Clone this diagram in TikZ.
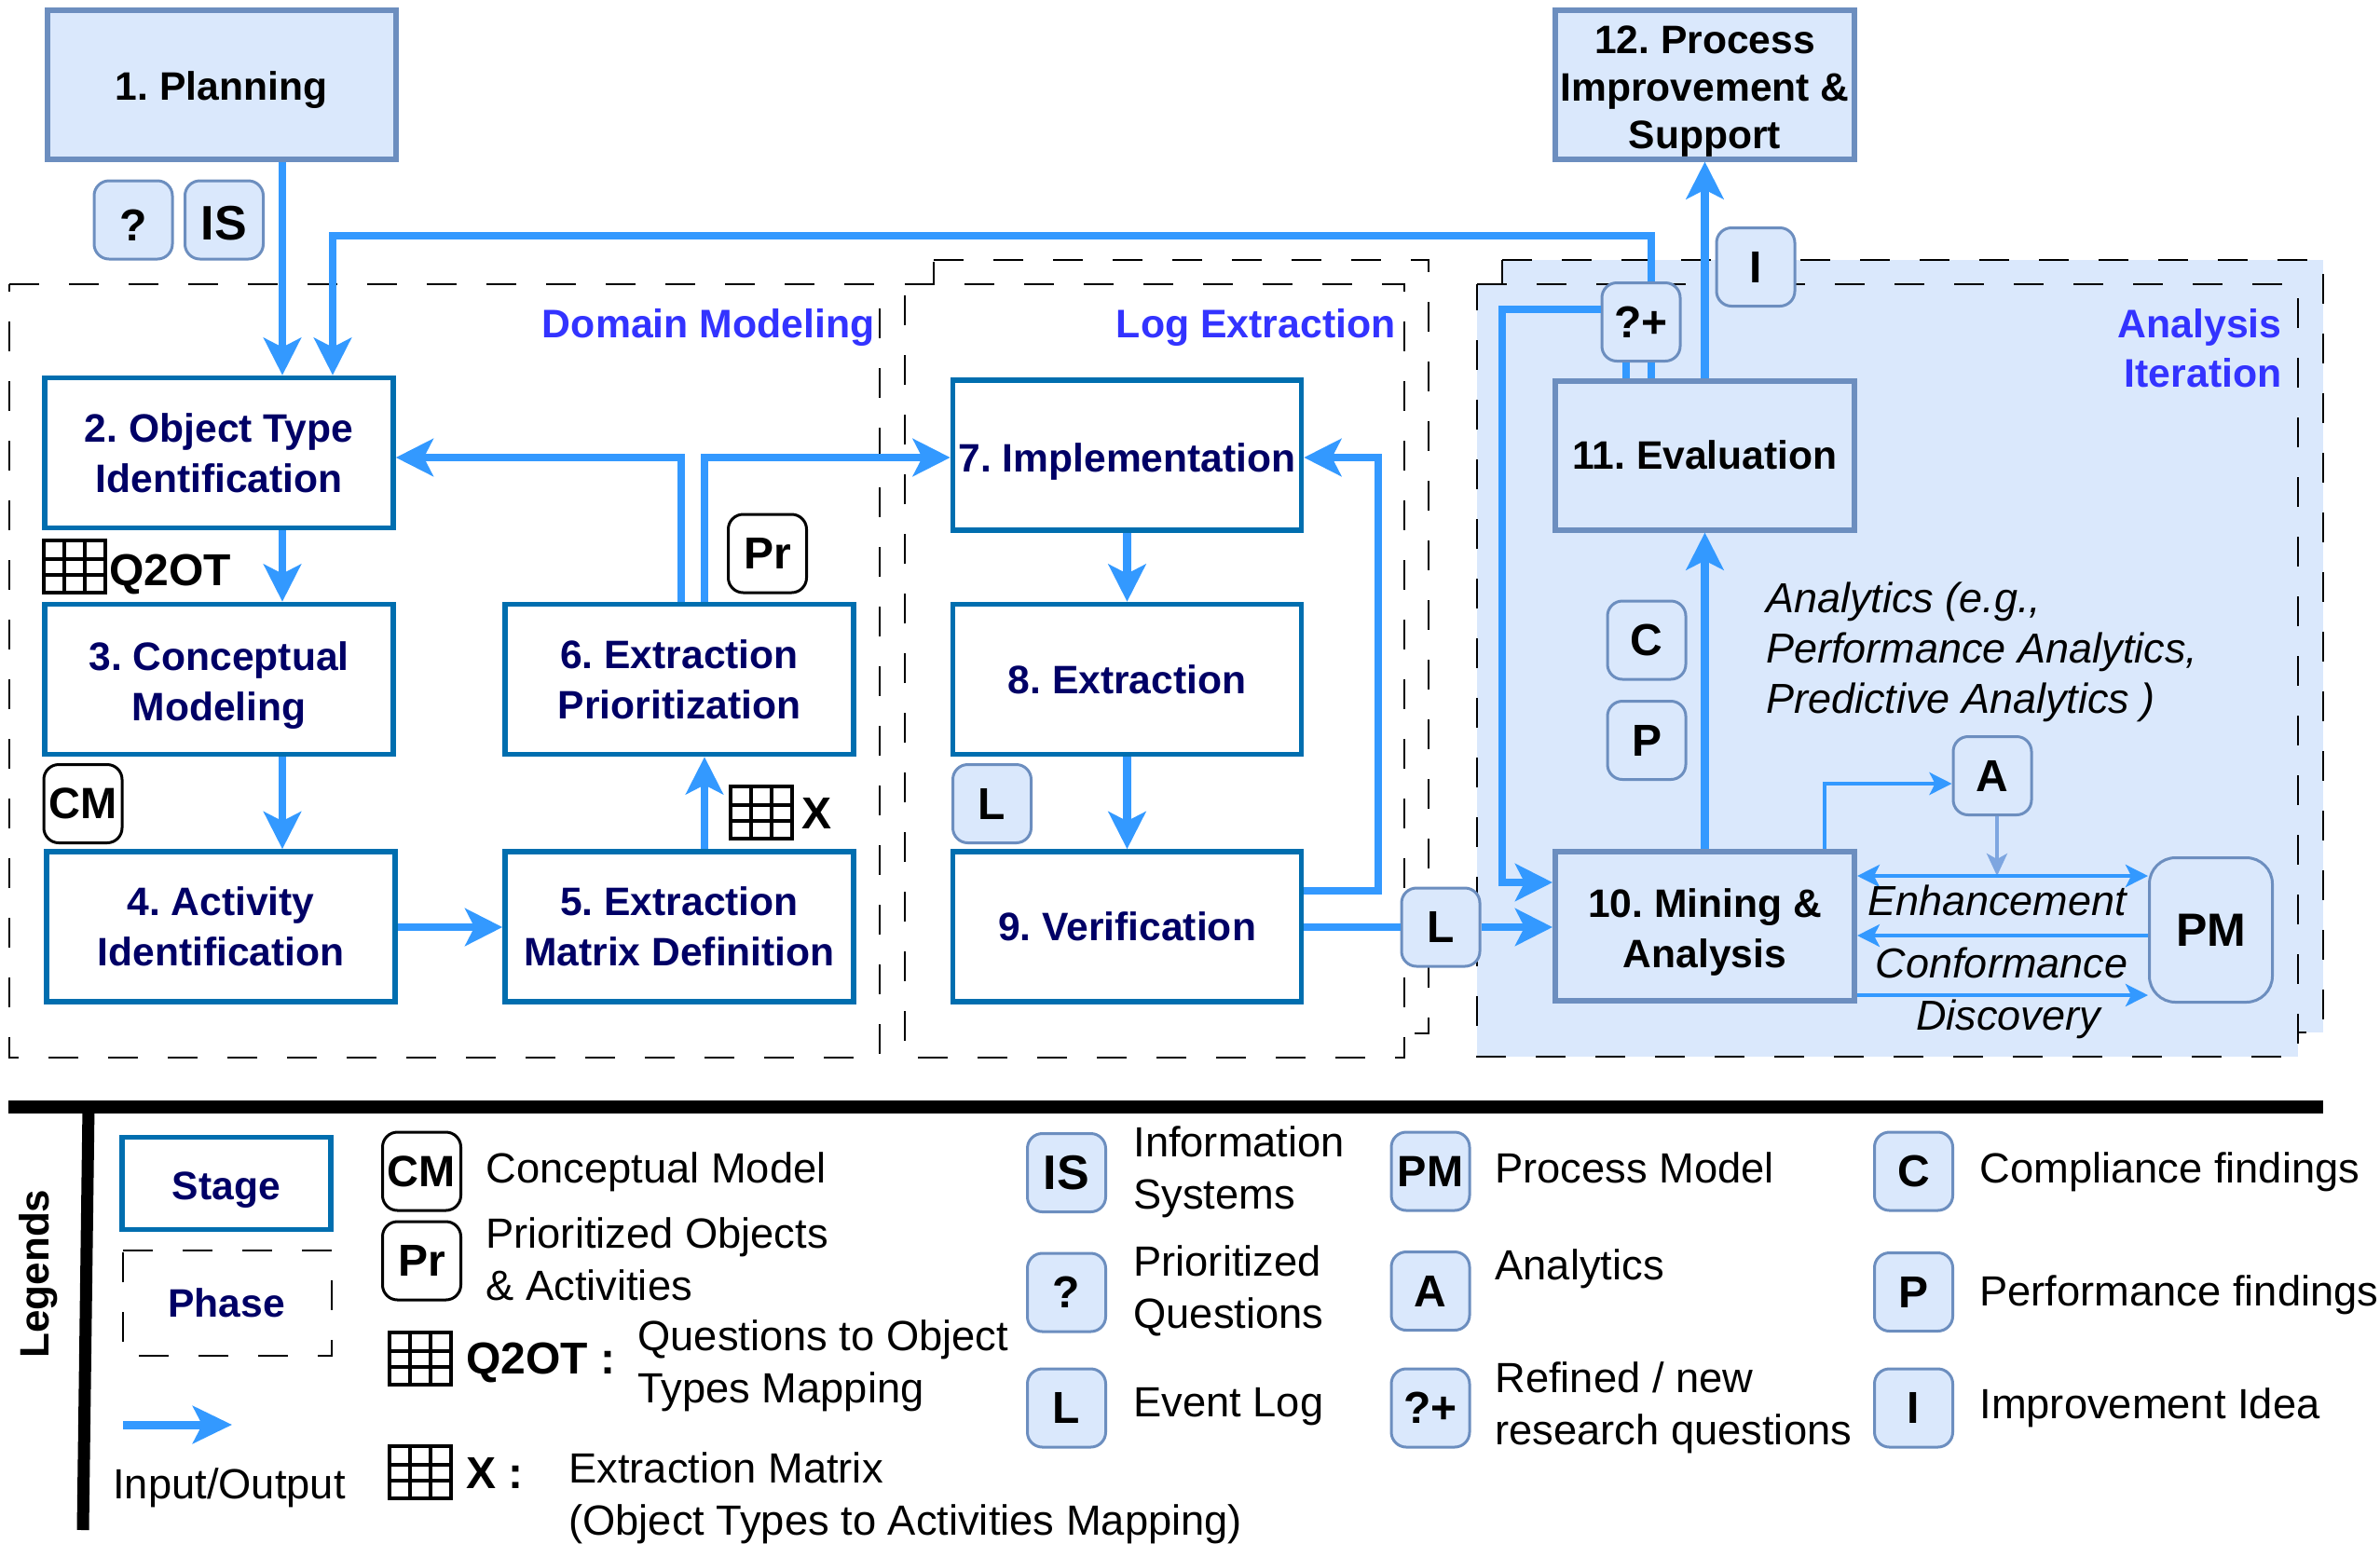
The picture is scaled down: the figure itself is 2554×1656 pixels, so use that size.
\documentclass[tikz,border=0pt]{standalone}
\usepackage{fontspec}
\setmainfont{Liberation Sans}
\usetikzlibrary{arrows.meta}
\frenchspacing

\definecolor{flowblue}{HTML}{3399FF}
\definecolor{stageline}{HTML}{006EAF}
\definecolor{stagetext}{HTML}{000066}
\definecolor{lightfill}{HTML}{DAE8FC}
\definecolor{lightline}{HTML}{6C8EBF}
\definecolor{softarrow}{HTML}{7EA6E0}
\definecolor{phasetext}{HTML}{3333FF}

\newcommand{\boldfont}{\fontsize{21.3}{27}\selectfont\bfseries}
\newcommand{\plainfont}{\fontsize{22.65}{28}\selectfont}
\newcommand{\topstrut}{\rule{0pt}{22pt}}
\newcommand{\gridicon}[2]{%
  \draw[gridline] (#1,#2) rectangle ++(66,56);
  \foreach \k in {22,44} {\draw[gridline] (#1+\k,#2) -- ++(0,56);}
  \foreach \k in {20,37} {\draw[gridline] (#1,#2+\k) -- ++(66,0);}
}

\tikzset{
  stagebox/.style={draw=stageline,line width=2.8pt,fill=white,minimum width=187pt,minimum height=80.5pt,
    align=center,text=stagetext,font=\boldfont,inner sep=0pt},
  lightbox/.style={draw=lightline,line width=3pt,fill=lightfill,minimum width=160.5pt,minimum height=80pt,
    align=center,font=\boldfont,inner sep=0pt},
  chip/.style={draw=lightline,line width=1.5pt,fill=lightfill,rounded corners=8pt,minimum width=42pt,
    minimum height=42pt,font=\fontsize{24}{27}\selectfont\bfseries,inner sep=0pt},
  darkchip/.style={chip,draw=black,fill=white},
  flow/.style={draw=flowblue,line width=4.2pt,-{Stealth[length=20pt,width=20pt,inset=5pt]}},
  flowline/.style={draw=flowblue,line width=4.2pt},
  thinflow/.style={draw=flowblue,line width=2pt,-{Stealth[length=12pt,width=12pt,inset=3pt]}},
  softflow/.style={draw=softarrow,line width=2pt,-{Stealth[length=12pt,width=11pt,inset=3pt]}},
  phaseline/.style={draw=black,line width=1.4pt,dash pattern=on 16pt off 16pt},
  phaselabel/.style={text=phasetext,font=\fontsize{21.4}{26.5}\selectfont\bfseries,align=right,anchor=east,inner sep=0pt},
  itemlabel/.style={font=\plainfont,align=left,anchor=west,inner sep=0pt},
  flowlabel/.style={font=\fontsize{22.5}{27}\selectfont\itshape,inner sep=0pt},
  iconlabel/.style={font=\fontsize{24}{27}\selectfont\bfseries,anchor=west,inner sep=0pt},
  gridline/.style={draw=black,line width=1.7pt},
}

\begin{document}
\begin{tikzpicture}[x=0.5pt,y=-0.5pt]
\useasboundingbox (0,0) rectangle (2554,1656);

% phases
\draw[phaseline] (10,305) -- (944,305) -- (944,1135) -- (10,1135) -- cycle;
\draw[phaseline] (1002,279) -- (1533,279) -- (1533,1109) -- (1002,1109) -- cycle;
\draw[phaseline,fill=white] (971,305) -- (1507,305) -- (1507,1135) -- (971,1135) -- cycle;
\draw[phaseline,fill=lightfill] (1612,279) -- (2493,279) -- (2493,1108) -- (1612,1108) -- cycle;
\draw[phaseline,fill=lightfill] (1585,305) -- (2466,305) -- (2466,1134) -- (1585,1134) -- cycle;
\node[phaselabel] (domainlabel) at (939,352) {Domain Modeling};
\node[phaselabel] (loglabel) at (1498,352) {Log Extraction};
\node[phaselabel] (analysislabel) at (2449,374) {Analysis\\Iteration};

% stages
\node[lightbox,minimum width=187pt] (plan) at (237.5,90.5) {\topstrut 1. Planning};
\node[stagebox] (objtype) at (235,486) {2. Object Type\\Identification};
\node[stagebox] (concept) at (235,729) {\topstrut 3. Conceptual\\Modeling};
\node[stagebox] (activity) at (237,994.5) {4. Activity\\Identification};
\node[stagebox] (exmatrix) at (729,994.5) {5. Extraction\\Matrix Definition};
\node[stagebox] (exprior) at (729,729) {6. Extraction\\Prioritization};
\node[stagebox] (impl) at (1209.5,488.5) {\topstrut 7. Implementation};
\node[stagebox] (extract) at (1209.5,729) {8. Extraction};
\node[stagebox] (verify) at (1209.5,994.5) {9. Verification};
\node[lightbox] (mining) at (1829.5,994) {\topstrut 10. Mining \&\\Analysis};
\node[lightbox] (evalbox) at (1829.5,488.5) {11. Evaluation};
\node[lightbox,font=\fontsize{21.3}{25.5}\selectfont\bfseries] (improve) at (1829.5,90.5) {\topstrut 12. Process\\Improvement \&\\Support};

% artifacts
\node[chip] (chipq) at (143,236) {\topstrut ?};
\node[chip,font=\fontsize{26}{27}\selectfont\bfseries] (chipis) at (240.5,236) {\topstrut IS};
\node[chip] (chipidea) at (1884,286.5) {I};
\node[chip] (chiprefine) at (1761,345.5) {?+};
\node[chip] (chipc) at (1767,687) {C};
\node[chip] (chipp) at (1767,794.5) {P};
\node[chip] (chipa) at (2138,832.5) {A};
\node[chip,minimum width=66pt,minimum height=77.5pt,rounded corners=14pt,font=\fontsize{25}{27}\selectfont\bfseries] (chippm) at (2372.5,998) {PM};
\node[chip] (chipl) at (1546,995) {L};
\node[chip] (chiplog) at (1064.5,862.5) {L};
\node[darkchip,font=\fontsize{23.5}{27}\selectfont\bfseries] (chipcm) at (89,862.5) {CM};
\node[darkchip] (chippr) at (823.5,594) {Pr};
\gridicon{47}{580}
\node[iconlabel] (q2ot) at (117,616) {Q2OT};
\gridicon{784}{844}
\node[iconlabel] (xmat) at (860,873) {X};

% connectors
\coordinate (xa) at (303,0);
\coordinate (xb) at (357,0);
\coordinate (xc) at (731,0);
\coordinate (xd) at (756,0);
\coordinate (xe) at (1745,0);
\coordinate (xf) at (1772,0);
\coordinate (xg) at (1958,0);
\coordinate (xh) at (2143,0);
\coordinate (xi) at (1612,0);
\coordinate (xj) at (1479,0);
\coordinate (ya) at (0,253);
\coordinate (yb) at (0,491);
\coordinate (yc) at (0,956);
\coordinate (yd) at (0,995);
\coordinate (ye) at (0,332);
\coordinate (yf) at (0,947);
\coordinate (yg) at (0,841);
\coordinate (yh) at (0,940);
\coordinate (yi) at (0,1004);
\coordinate (yj) at (0,1068);

\draw[flow] (plan.south -| xa) -- (objtype.north -| xa);
\draw[flow] (chiprefine.north -| xf) -- (xf |- ya) -- (xb |- ya) -- (objtype.north -| xb);
\draw[flow] (objtype.south -| xa) -- (concept.north -| xa);
\draw[flow] (concept.south -| xa) -- (activity.north -| xa);
\draw[flow] (activity.east |- yd) -- (exmatrix.west |- yd);
\draw[flow] (exmatrix.north -| xd) -- (exprior.south -| xd);
\draw[flow] (exprior.north -| xc) -- (xc |- yb) -- (objtype.east |- yb);
\draw[flow] (exprior.north -| xd) -- (xd |- yb) -- (impl.west |- yb);
\draw[flow] (impl.south) -- (extract.north);
\draw[flow] (extract.south) -- (verify.north);
\draw[flow] (verify.east |- yc) -- (xj |- yc) -- (xj |- yb) -- (impl.east |- yb);
\draw[flowline] (verify.east |- yd) -- (chipl.west |- yd);
\draw[flow] (chipl.east |- yd) -- (mining.west |- yd);
\draw[flow] (chiprefine.west |- ye) -- (xi |- ye) -- (xi |- yf) -- (mining.west |- yf);
\draw[flowline] (chiprefine.south -| xe) -- (evalbox.north -| xe);
\draw[flowline] (chiprefine.south -| xf) -- (evalbox.north -| xf);
\draw[flow] (mining.north) -- (evalbox.south);
\draw[flow] (evalbox.north) -- (improve.south);
\draw[thinflow] (mining.north -| xg) -- (xg |- yg) -- (chipa.west |- yg);
\draw[softflow] (chipa.south -| xh) -- (xh |- yh);
\draw[thinflow,{Stealth[length=12pt,width=12pt,inset=3pt]}-{Stealth[length=12pt,width=12pt,inset=3pt]}] (mining.east |- yh) -- (chippm.west |- yh);
\draw[thinflow] (chippm.west |- yi) -- (mining.east |- yi);
\draw[thinflow] (mining.east |- yj) -- (chippm.west |- yj);

% free labels
\node[flowlabel] (enhance) at (2143,966) {Enhancement};
\node[flowlabel] (conform) at (2148,1033) {Conformance};
\node[flowlabel] (discover) at (2155,1094) {Discovery};
\node[itemlabel,font=\fontsize{22.5}{27}\selectfont\itshape] (analytics) at (1895,700) {Analytics (e.g.,\\Performance Analytics,\\Predictive Analytics )};

% legends
\coordinate (rulea) at (9,1188);
\coordinate (ruleb) at (2493,1188);
\coordinate (rulec) at (95,1188);
\coordinate (ruled) at (89,1642);
\draw[line width=7pt] (rulea) -- (ruleb);
\draw[line width=6.5pt] (rulec) -- (ruled);
\node[rotate=90,font=\fontsize{22}{27}\selectfont\bfseries,inner sep=0pt] (legendtitle) at (41,1367) {Legends};

\node[stagebox,minimum width=112pt,minimum height=49.5pt] (lgstage) at (243,1270) {\topstrut Stage};
\draw[phaseline] (132,1342) -- (356,1342) -- (356,1455) -- (132,1455) -- cycle;
\node[text=stagetext,font=\boldfont,inner sep=0pt] (lgphase) at (243,1398) {Phase};
\coordinate (ioa) at (132,1529);
\coordinate (iob) at (249,1529);
\draw[draw=flowblue,line width=4.5pt,-{Stealth[length=21pt,width=20pt,inset=5pt]}] (ioa) -- (iob);
\node[itemlabel,anchor=center] (lgio) at (246,1597) {Input/Output};

\node[darkchip,font=\fontsize{23.5}{27}\selectfont\bfseries] (lgcm) at (452.5,1257) {CM};
\node[itemlabel] (lgcmtext) at (521,1258) {Conceptual Model};
\node[darkchip] (lgpr) at (452.5,1353) {Pr};
\node[itemlabel] (lgprtext) at (521,1351.5) {Prioritized Objects\\\& Activities};
\gridicon{418}{1430}
\node[iconlabel] (lgq2ot) at (500,1462) {Q2OT :};
\node[itemlabel] (lgq2ottext) at (684,1466) {Questions to Object\\Types Mapping};
\gridicon{418}{1552}
\node[iconlabel] (lgx) at (500,1581) {X :};
\node[itemlabel] (lgxtext) at (610,1608) {Extraction Matrix\\(Object Types to Activities Mapping)};

\node[chip,font=\fontsize{26}{27}\selectfont\bfseries] (lgis) at (1144.5,1258.5) {IS};
\node[itemlabel] (lgistext) at (1216,1258) {Information\\Systems};
\node[chip] (lgq) at (1144.5,1387) {?};
\node[itemlabel] (lgqtext) at (1216,1385) {Prioritized\\Questions};
\node[chip] (lgl) at (1144.5,1511) {L};
\node[itemlabel] (lgltext) at (1216,1510) {Event Log};

\node[chip,font=\fontsize{23.5}{27}\selectfont\bfseries] (lgpm) at (1535,1257) {PM};
\node[itemlabel] (lgpmtext) at (1604,1253) {Process Model};
\node[chip] (lga) at (1535,1385.5) {A};
\node[itemlabel] (lgatext) at (1604,1362) {Analytics};
\node[chip] (lgrefine) at (1535,1511) {?+};
\node[itemlabel] (lgrefinetext) at (1604,1511) {Refined / new\\research questions};

\node[chip] (lgc) at (2053.5,1257) {C};
\node[itemlabel] (lgctext) at (2124,1258) {Compliance findings};
\node[chip] (lgp) at (2053.5,1386.5) {P};
\node[itemlabel] (lgptext) at (2124,1390) {Performance findings};
\node[chip] (lgi) at (2053.5,1511) {I};
\node[itemlabel] (lgitext) at (2124,1511) {Improvement Idea};

\end{tikzpicture}
\end{document}
